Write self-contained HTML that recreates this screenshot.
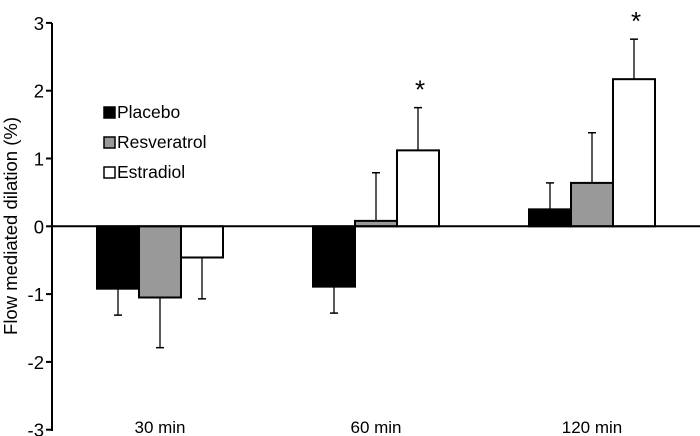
<!DOCTYPE html>
<html><head><meta charset="utf-8"><style>
body{margin:0;background:#fff}
svg{display:block;font-family:"Liberation Sans",Arial,sans-serif}
</style></head><body>
<svg id="chart" width="700" height="436">
<g id="marks"></g>
<line x1="52" y1="23" x2="52" y2="431" stroke="#000" stroke-width="2"/>
<g id="yticks"></g>
<text transform="translate(17,226) rotate(-90)" text-anchor="middle" font-size="18.5">Flow mediated dilation (%)</text>
<g>
<rect x="104" y="107" width="11" height="11" fill="#000" stroke="#000" stroke-width="1.5"/>
<text x="117" y="118" font-size="17.5">Placebo</text>
<rect x="104" y="137" width="11" height="11" fill="#999" stroke="#000" stroke-width="1.5"/>
<text x="117" y="148" font-size="17.5">Resveratrol</text>
<rect x="104" y="167" width="11" height="11" fill="#fff" stroke="#000" stroke-width="1.5"/>
<text x="117" y="178" font-size="17.5">Estradiol</text>
</g>
</svg>
<script>
const categories = ["30 min", "60 min", "120 min"];
const placebo = [-0.92, -0.89, 0.25];
const resveratrol = [-1.05, 0.08, 0.64];
const estradiol = [-0.46, 1.12, 2.17];
const placeboErr = [0.39, 0.39, 0.39];
const resveratrolErr = [0.74, 0.71, 0.74];
const estradiolErr = [0.61, 0.63, 0.59];
const significant = [false, true, true];
const yTicks = [3, 2, 1, 0, -1, -2, -3];

const NS = "http://www.w3.org/2000/svg";
const y = v => 226.3 - v * 67.8;
const band = 216, x0 = 52, barW = 42;
const xc = i => x0 + band * (i + 0.5);
function mk(tag, attrs, parent) {
  const e = document.createElementNS(NS, tag);
  for (const k in attrs) e.setAttribute(k, attrs[k]);
  parent.appendChild(e);
  return e;
}
const marks = document.getElementById("marks");
const ticks = document.getElementById("yticks");
yTicks.forEach(t => {
  const l = mk("line", {x1: 46, x2: 52, y1: y(t), y2: y(t), stroke: "#000", "stroke-width": 2}, ticks);
  
  
  const tx = mk("text", {x: 44, y: y(t) + 7, "text-anchor": "end", "font-size": 18.5}, ticks);
  tx.textContent = t;
  
  
});
const series = [[placebo, placeboErr, "#000", "placebo"], [resveratrol, resveratrolErr, "#999", "resveratrol"], [estradiol, estradiolErr, "#fff", "estradiol"]];
categories.forEach((c, i) => {
  series.forEach((s, j) => {
    const v = s[0][i], e = s[1][i];
    const bx = xc(i) - 1.5 * barW + j * barW;
    const ey = v >= 0 ? y(v + e) : y(v - e);
    const el = mk("line", {x1: bx + barW / 2, x2: bx + barW / 2, y1: y(v), y2: ey, stroke: "#000", "stroke-width": 1.3}, marks);
    
    
    const cap = mk("line", {x1: bx + barW / 2 - 4, x2: bx + barW / 2 + 4, y1: ey, y2: ey, stroke: "#000", "stroke-width": 1.5}, marks);
    
    
    const r = mk("rect", {x: bx, y: Math.min(y(v), y(0)), width: barW, height: Math.abs(y(v) - y(0)), fill: s[2], stroke: "#000", "stroke-width": 2}, marks);
    
    
  });
  if (significant[i]) {
    const top = estradiol[i] + estradiolErr[i];
    const st = mk("text", {x: xc(i) + barW + 2, y: y(top) - 9, "text-anchor": "middle", "font-size": 26}, marks);
    st.textContent = "*";
    
    
  }
  const lb = mk("text", {x: xc(i), y: 433, "text-anchor": "middle", "font-size": 17}, marks);
  lb.textContent = c;
  
  
});
const zl = mk("line", {x1: 52, x2: 700, y1: y(0), y2: y(0), stroke: "#000", "stroke-width": 2}, marks);


</script>
</body></html>
